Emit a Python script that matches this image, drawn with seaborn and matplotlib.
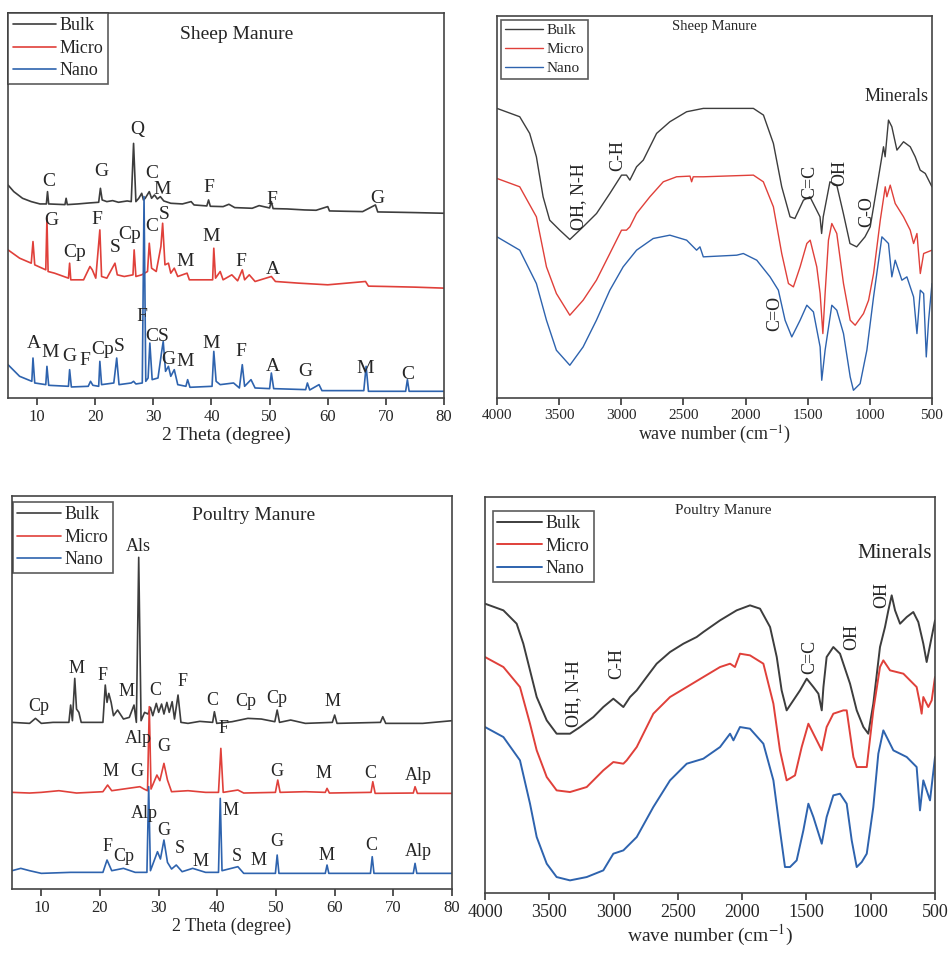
import matplotlib
matplotlib.use("Agg")
import matplotlib.pyplot as plt
import seaborn as sns
import pandas as pd

sns.set_style("ticks")
plt.rcParams["font.family"] = ["Liberation Serif", "DejaVu Serif"]
plt.rcParams["mathtext.fontset"] = "stix"

series_names = ["Bulk", "Micro", "Nano"]
series_colors = {"Bulk": "#3d3d3d", "Micro": "#e0403a", "Nano": "#2e63ae"}

# ---------------- XRD, sheep manure (2 theta, intensity a.u.) ----------------
xrd_sheep_bulk_x = [5, 6, 7.5, 9, 10.5, 11.6, 11.8, 12.0, 14.8, 15.0, 15.2, 17, 19, 20.6, 20.9, 21.2, 22, 23, 24,
                    25.5, 26.2, 26.6, 27.0, 27.5, 28.0, 28.3, 28.6, 29.3, 29.7, 30.2, 30.7, 31.2, 31.8, 33, 35, 36.5,
                    37, 39.2, 39.5, 39.8, 42, 43, 44, 47, 48.2, 50, 50.3, 50.6, 53, 56, 58, 60, 60.3, 63, 66, 68.2,
                    68.6, 72, 75, 80]
xrd_sheep_bulk_y = [640, 620, 600, 590, 583, 583, 620, 583, 581, 600, 581, 583, 586, 588, 630, 595, 590, 593, 588,
                    592, 590, 765, 590, 600, 615, 595, 600, 620, 600, 610, 598, 605, 592, 585, 583, 590, 580, 577,
                    595, 576, 575, 582, 572, 570, 578, 571, 590, 569, 568, 565, 564, 575, 562, 561, 560, 580, 559,
                    558, 557, 555]
xrd_sheep_micro_x = [5, 7, 9, 9.3, 9.6, 11.5, 11.7, 11.9, 13, 15.4, 15.6, 15.8, 18, 19.1, 19.5, 20.1, 20.8, 21.1, 22,
                     23.4, 23.8, 25, 26.5, 26.7, 27, 28, 29.0, 29.3, 29.7, 30.5, 31.3, 31.6, 32, 32.6, 33, 33.6, 34.2,
                     35.8, 36.2, 38, 40.2, 40.4, 40.7, 41.5, 42, 43.5, 44.5, 45.3, 45.7, 46.5, 47.5, 50.3, 51, 55,
                     60, 66.5, 67, 70, 75, 80]
xrd_sheep_micro_y = [445, 420, 405, 470, 400, 385, 540, 380, 375, 360, 405, 355, 355, 395, 385, 360, 505, 365, 360,
                     405, 370, 365, 370, 445, 365, 370, 380, 465, 390, 380, 455, 525, 400, 405, 375, 390, 365,
                     375, 355, 355, 355, 450, 360, 380, 355, 370, 352, 385, 355, 370, 350, 365, 350, 345,
                     340, 350, 336, 335, 333, 330]
xrd_sheep_nano_x = [5, 7, 9.1, 9.3, 9.6, 11.5, 11.7, 12, 15.4, 15.6, 15.9, 18.8, 19.2, 19.6, 20.6, 20.8, 21.1, 23.2,
                    23.7, 24.1, 26.2, 26.6, 27, 28.1, 28.4, 28.7, 29.1, 29.4, 29.8, 30.8, 31.4, 31.7, 32.1, 32.6, 33,
                    33.6, 34.2, 35.6, 35.9, 36.3, 40.1, 40.4, 40.8, 41.5, 43.8, 44.8, 45.3, 45.7, 46.8, 47.5, 50,
                    50.3, 50.7, 56.2, 56.5, 56.9, 58.5, 59, 64, 66.2, 66.6, 67, 73.4, 73.7, 74, 80]
xrd_sheep_nano_y = [100, 65, 50, 120, 45, 40, 95, 38, 35, 85, 33, 35, 50, 38, 35, 110, 40, 45,
                    120, 40, 45, 50, 42, 45, 605, 50, 60, 165, 55, 60, 135, 170, 80, 95, 65,
                    85, 40, 35, 55, 32, 35, 140, 50, 40, 45, 30, 100, 35, 55, 30, 28,
                    75, 28, 25, 45, 24, 40, 22, 22, 22, 95, 20, 20, 55, 20, 20]

sheep_xrd_labels = [
    ("C", 12.0, 650), ("G", 21.0, 680), ("Q", 27.2, 807), ("C", 29.8, 675), ("M", 31.5, 627),
    ("F", 39.5, 632), ("F", 50.3, 597), ("G", 68.5, 600),
    ("G", 12.5, 533), ("Cp", 16.5, 438), ("F", 20.2, 535), ("S", 23.5, 453), ("Cp", 26.0, 490),
    ("C", 29.7, 515), ("S", 31.8, 550), ("M", 40.0, 485), ("M", 35.5, 410), ("F", 45.0, 410),
    ("A", 50.5, 387),
    ("A", 9.5, 165), ("M", 12.3, 137), ("G", 15.5, 125), ("F", 18.2, 113), ("Cp", 21.3, 145),
    ("S", 24.2, 155), ("F", 28.0, 245), ("CS", 30.6, 185), ("G", 32.6, 115), ("M", 35.4, 110),
    ("M", 40.0, 165), ("F", 45.0, 140), ("A", 50.5, 95), ("G", 56.2, 80), ("M", 66.5, 90),
    ("C", 73.8, 70),
]

# ---------------- FTIR, sheep manure (wavenumber, transmittance a.u.) ----------------
ftir_sheep_bulk_x = [4000, 3817, 3737, 3683, 3629, 3576, 3495, 3414, 3307, 3199, 3092, 2998, 2958, 2931, 2877, 2823,
                     2716, 2609, 2474, 2340, 1937, 1856, 1776, 1709, 1642, 1603, 1534, 1482, 1428, 1401, 1388, 1375,
                     1321, 1266, 1213, 1160, 1106, 1039, 997, 943, 890, 877, 850, 823, 782, 729, 675, 635, 595, 554,
                     500]
ftir_sheep_bulk_y = [868, 843, 793, 723, 603, 533, 503, 475, 513, 553, 613, 668, 668, 653, 693, 713,
                     793, 828, 858, 868, 868, 848, 763, 633, 543, 538, 593, 603, 563, 543, 493, 543,
                     648, 638, 553, 463, 453, 483, 513, 633, 753, 723, 833, 813, 743, 768, 753, 723, 683, 673,
                     633]
ftir_sheep_micro_x = [4000, 3817, 3683, 3602, 3522, 3414, 3307, 3200, 3092, 2998, 2958, 2931, 2877, 2770, 2662, 2555,
                      2447, 2434, 2421, 2340, 1937, 1857, 1776, 1709, 1655, 1615, 1561, 1507, 1480, 1427, 1400, 1378,
                      1360, 1333, 1306, 1266, 1212, 1158, 1118, 1051, 1010, 970, 916, 876, 863, 836, 796, 729, 675,
                      648, 621, 594, 567, 500]
ftir_sheep_micro_y = [658, 633, 543, 393, 313, 248, 293, 353, 433, 503, 503, 513, 553, 603, 648, 663,
                      665, 648, 663, 663, 668, 648, 573, 433, 343, 333, 393, 463, 473, 393, 313, 193,
                      313, 473, 523, 493, 343, 233, 218, 253, 293, 373, 533, 633, 603, 638, 583, 543, 503,
                      463, 493, 373, 433, 443]
ftir_sheep_nano_x = [4000, 3817, 3683, 3602, 3522, 3414, 3307, 3200, 3092, 2985, 2877, 2743, 2609, 2474, 2394, 2367,
                     2340, 2071, 2018, 1910, 1803, 1736, 1682, 1628, 1561, 1507, 1454, 1400, 1387, 1360, 1306, 1266,
                     1212, 1158, 1132, 1078, 1024, 970, 903, 850, 823, 796, 742, 702, 675, 648, 621, 594, 567, 546,
                     527, 500]
ftir_sheep_nano_y = [483, 443, 343, 233, 143, 98, 153, 233, 323, 393, 443, 478, 488, 473, 443, 453,
                     423, 428, 433, 413, 363, 323, 233, 183, 233, 278, 258, 153, 53, 143, 278, 263,
                     193, 63, 23, 43, 143, 303, 483, 463, 363, 413, 353, 363, 333, 303, 193, 323, 313, 123,
                     233, 343]

sheep_ftir_labels = [("OH, N-H", 3347, 603), ("C-H", 3025, 728), ("C=C", 1480, 648),
                     ("OH", 1239, 673), ("C-O", 1024, 558), ("C=O", 1763, 253)]

# ---------------- XRD, poultry manure ----------------
xrd_poultry_bulk_x = [5, 8, 9, 10, 12, 14.7, 15.0, 15.3, 15.7, 16.0, 16.4, 16.8, 20.5, 20.9, 21.2, 21.5, 21.9, 22.3,
                      23, 24, 25, 25.8, 26.2, 26.6, 27.0, 27.6, 28.2, 28.6, 29.0, 29.6, 30.0, 30.5, 30.9, 31.4,
                      31.8, 32.3, 32.7, 33.3, 33.8, 35, 37, 39.2, 39.5, 39.9, 42.5, 45.2, 47.5, 49.8, 50.2, 50.6,
                      52.5, 55, 59.6, 60, 60.4, 67.8, 68.2, 68.7, 75, 80]
xrd_poultry_bulk_y = [500, 497, 512, 497, 500, 500, 552, 505, 632, 540, 530, 500, 500, 612, 560, 587, 560, 520,
                      537, 510, 515, 552, 500, 995, 505, 530, 525, 545, 520, 557, 530, 555, 525, 560,
                      530, 562, 510, 582, 500, 497, 503, 500, 532, 497, 502, 512, 510, 502, 537, 500,
                      507, 497, 500, 522, 497, 500, 517, 497, 497, 505]
xrd_poultry_micro_x = [5, 8, 10, 13, 16, 20.5, 21.3, 22, 24, 26.8, 27.5, 28.1, 28.4, 28.7, 29.7, 30.2, 30.9, 31.5,
                       32.2, 35, 38, 40.2, 40.6, 41.0, 43.5, 44.5, 49.9, 50.3, 50.7, 55, 58.4, 58.7, 59.1, 66.2,
                       66.5, 66.9, 73.4, 73.7, 74.1, 80]
xrd_poultry_micro_y = [290, 288, 290, 295, 288, 292, 312, 295, 300, 307, 300, 295, 547, 300, 342, 325, 377, 327,
                       292, 295, 290, 290, 422, 290, 297, 288, 290, 327, 290, 292, 290, 302, 288, 290,
                       322, 287, 288, 307, 287, 287]
xrd_poultry_nano_x = [5, 6.5, 8, 10, 15, 20.5, 21.2, 22, 24, 26, 28.0, 28.3, 28.6, 29.8, 30.3, 30.9, 31.5, 32.2, 33,
                      34, 35.8, 38, 40.2, 40.5, 40.8, 43.5, 44.5, 49.9, 50.2, 50.5, 58.4, 58.7, 59, 66.1, 66.4,
                      66.7, 73.4, 73.7, 74, 80]
xrd_poultry_nano_y = [55, 62, 55, 47, 50, 50, 87, 55, 62, 50, 50, 307, 55, 112, 90, 147, 80, 60, 72,
                      52, 62, 50, 50, 272, 55, 67, 47, 47, 102, 47, 47, 72, 47, 47, 97,
                      47, 47, 77, 47, 47]

poultry_xrd_labels = [
    ("Cp", 9.6, 547), ("M", 16.0, 662), ("F", 20.5, 642), ("M", 24.5, 592), ("Als", 26.6, 1029),
    ("C", 29.4, 597), ("F", 34.1, 622), ("C", 39.1, 567), ("Cp", 44.9, 562), ("Cp", 50.1, 572),
    ("M", 59.7, 562),
    ("Alp", 26.6, 452), ("G", 30.9, 427), ("M", 21.8, 352), ("G", 26.3, 352), ("F", 41.1, 482),
    ("G", 50.1, 352), ("M", 58.1, 347), ("C", 66.0, 347), ("Alp", 74.2, 342),
    ("Alp", 27.5, 227), ("M", 42.2, 237), ("G", 30.9, 177), ("F", 21.2, 127), ("Cp", 24.1, 97),
    ("S", 33.6, 122), ("M", 37.1, 82), ("S", 43.3, 97), ("M", 47.0, 87), ("G", 50.1, 142),
    ("M", 58.6, 102), ("C", 66.3, 132), ("Alp", 74.2, 112),
]

# ---------------- FTIR, poultry manure ----------------
ftir_poultry_bulk_x = [4000, 3857, 3754, 3702, 3650, 3598, 3520, 3443, 3339, 3261, 3157, 3080, 3002, 2924, 2872, 2820,
                       2743, 2665, 2561, 2457, 2354, 2302, 2172, 2043, 1939, 1861, 1783, 1731, 1693, 1654, 1602,
                       1550, 1498, 1446, 1407, 1381, 1368, 1343, 1291, 1239, 1161, 1109, 1057, 1019, 980, 928, 889,
                       863, 837, 811, 772, 720, 669, 630, 591, 565, 526, 500]
ftir_poultry_bulk_y = [868, 848, 808, 748, 668, 588, 518, 478, 478, 498, 528, 558, 583, 558, 588, 608,
                       648, 688, 723, 748, 768, 783, 818, 848, 863, 853, 798, 708, 608, 548, 578,
                       608, 643, 618, 598, 548, 618, 708, 738, 718, 628, 548, 498, 478, 568, 738, 798,
                       848, 893, 848, 808, 828, 843, 813, 748, 693, 768, 818]
ftir_poultry_micro_x = [4000, 3857, 3728, 3650, 3598, 3520, 3443, 3339, 3209, 3080, 3002, 2924, 2898, 2820, 2691,
                        2561, 2431, 2302, 2172, 2094, 2056, 2017, 1939, 1835, 1757, 1706, 1654, 1589, 1537, 1485,
                        1446, 1381, 1343, 1291, 1213, 1187, 1135, 1109, 1031, 980, 928, 902, 850, 746, 643, 617,
                        604, 591, 552, 526, 500]
ftir_poultry_micro_y = [708, 678, 618, 508, 428, 348, 308, 303, 318, 368, 393, 388, 398, 438, 538,
                        588, 618, 648, 678, 688, 678, 718, 713, 688, 568, 428, 338, 353, 438, 508,
                        478, 428, 498, 538, 548, 548, 408, 378, 378, 548, 678, 698, 668, 658, 618, 568,
                        538, 588, 558, 578, 648]
ftir_poultry_nano_x = [4000, 3857, 3728, 3650, 3598, 3520, 3443, 3339, 3209, 3080, 3002, 2924, 2820, 2691, 2561,
                       2431, 2302, 2172, 2094, 2068, 2017, 1939, 1835, 1757, 1706, 1667, 1628, 1576, 1524, 1485,
                       1446, 1381, 1343, 1291, 1239, 1187, 1148, 1109, 1070, 1031, 980, 941, 902, 863, 824, 720,
                       643, 617, 591, 539, 500]
ftir_poultry_nano_y = [498, 468, 398, 268, 168, 88, 48, 38, 48, 68, 118, 128, 168, 258, 338,
                       388, 403, 438, 478, 458, 498, 493, 448, 338, 188, 78, 78, 98, 188, 268,
                       228, 148, 228, 293, 298, 268, 158, 78, 93, 118, 258, 418, 488, 458, 428, 408,
                       378, 248, 338, 278, 408]

poultry_ftir_labels = [("OH, N-H", 3313, 598), ("C-H", 2976, 688), ("C=C", 1472, 708),
                       ("OH", 1148, 768), ("OH", 915, 893)]


def to_frame(xs, ys):
    rows = []
    for name, x, y in zip(series_names, xs, ys):
        rows.append(pd.DataFrame({"x": x, "y": y, "sample": name}))
    return pd.concat(rows, ignore_index=True)


def draw(ax, df, lw):
    for name in series_names:
        sub = df[df["sample"] == name]
        sns.lineplot(data=sub, x="x", y="y", ax=ax, color=series_colors[name], lw=lw,
                     sort=False, estimator=None, label=name)


def style_axes(ax, xlim, ylim, xticks, xlabel, tick_fs, label_fs):
    ax.set_xlim(*xlim)
    ax.set_ylim(*ylim)
    ax.set_xticks(xticks)
    ax.set_yticks([])
    ax.set_ylabel("")
    ax.set_xlabel(xlabel, fontsize=label_fs, labelpad=1)
    ax.tick_params(axis="x", direction="out", length=5, width=1.1, labelsize=tick_fs, pad=3)
    for s in ax.spines.values():
        s.set_linewidth(1.2)
        s.set_color("#444444")


def legend(ax, fs, anchor, handlelen, spacing):
    leg = ax.legend(loc="upper left", bbox_to_anchor=anchor, fontsize=fs, frameon=True, fancybox=False,
                    edgecolor="#333333", handlelength=handlelen, handletextpad=0.2, borderpad=0.25,
                    labelspacing=spacing, borderaxespad=0)
    leg.get_frame().set_linewidth(1.2)


fig = plt.figure(figsize=(9.51, 9.58), dpi=100)

# panel 1: XRD sheep
ax1 = fig.add_axes([0.0084, 0.5846, 0.4585, 0.4019])
draw(ax1, to_frame([xrd_sheep_bulk_x, xrd_sheep_micro_x, xrd_sheep_nano_x],
                   [xrd_sheep_bulk_y, xrd_sheep_micro_y, xrd_sheep_nano_y]), 1.2)
style_axes(ax1, (5, 80), (0, 1157), range(10, 81, 10), "2 Theta (degree)", 12, 14)
for t, x, y in sheep_xrd_labels:
    ax1.text(x, y, t, fontsize=14, ha="center", va="center")
ax1.text(0.525, 0.945, "Sheep Manure", transform=ax1.transAxes, fontsize=14, ha="center", va="center")
legend(ax1, 13, (0, 1), 2.4, 0.3)

# panel 2: FTIR sheep
ax2 = fig.add_axes([0.5226, 0.5846, 0.4574, 0.3987])
draw(ax2, to_frame([ftir_sheep_bulk_x, ftir_sheep_micro_x, ftir_sheep_nano_x],
                   [ftir_sheep_bulk_y, ftir_sheep_micro_y, ftir_sheep_nano_y]), 1.0)
style_axes(ax2, (4000, 500), (0, 1145), range(4000, 499, -500), "wave number (cm$^{-1}$)", 11, 13)
for t, x, y in sheep_ftir_labels:
    ax2.text(x, y, t, fontsize=13, ha="center", va="center", rotation=90)
ax2.text(782, 903, "Minerals", fontsize=13, ha="center", va="center")
ax2.text(0.5, 0.972, "Sheep Manure", transform=ax2.transAxes, fontsize=10.5, ha="center", va="center")
legend(ax2, 11, (0.01, 0.99), 2.5, 0.35)

# panel 3: XRD poultry
ax3 = fig.add_axes([0.0126, 0.0720, 0.4627, 0.4102])
draw(ax3, to_frame([xrd_poultry_bulk_x, xrd_poultry_micro_x, xrd_poultry_nano_x],
                   [xrd_poultry_bulk_y, xrd_poultry_micro_y, xrd_poultry_nano_y]), 1.2)
style_axes(ax3, (5, 80), (0, 1179), range(10, 81, 10), "2 Theta (degree)", 12, 13)
for t, x, y in poultry_xrd_labels:
    ax3.text(x, y, t, fontsize=13, ha="center", va="center")
ax3.text(0.55, 0.95, "Poultry Manure", transform=ax3.transAxes, fontsize=14, ha="center", va="center")
legend(ax3, 13, (0.002, 0.985), 2.4, 0.3)

# panel 4: FTIR poultry
ax4 = fig.add_axes([0.5100, 0.0678, 0.4732, 0.4134])
draw(ax4, to_frame([ftir_poultry_bulk_x, ftir_poultry_micro_x, ftir_poultry_nano_x],
                   [ftir_poultry_bulk_y, ftir_poultry_micro_y, ftir_poultry_nano_y]), 1.4)
style_axes(ax4, (4000, 500), (0, 1188), range(4000, 499, -500), "wave number (cm$^{-1}$)", 13, 14)
for t, x, y in poultry_ftir_labels:
    ax4.text(x, y, t, fontsize=13, ha="center", va="center", rotation=90)
ax4.text(811, 1018, "Minerals", fontsize=15, ha="center", va="center")
ax4.text(0.53, 0.965, "Poultry Manure", transform=ax4.transAxes, fontsize=11, ha="center", va="center")
legend(ax4, 13, (0.017, 0.965), 2.5, 0.3)

fig.savefig("out.png", dpi=100, facecolor="white")
